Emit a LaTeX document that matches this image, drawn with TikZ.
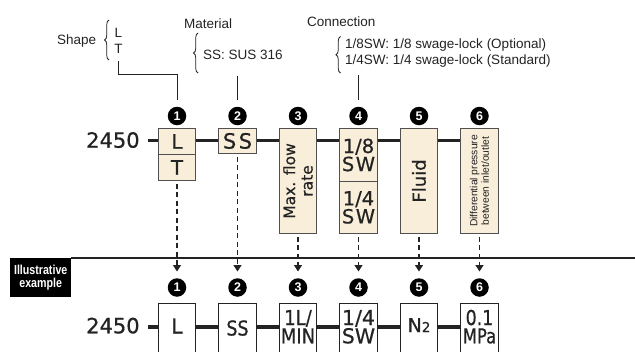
\documentclass[tikz,border=0pt]{standalone}
\usepackage{fontspec}
\usepackage{graphicx}
\setmainfont{Liberation Sans}
\newfontfamily\dvs{DejaVu Sans}
\newfontface\dvsm[FakeBold=0.6]{DejaVu Sans}
\usetikzlibrary{arrows.meta,decorations.pathreplacing}
\definecolor{cream}{RGB}{248,238,218}
\definecolor{ink}{RGB}{35,35,35}
\definecolor{boxline}{RGB}{80,80,80}
\begin{document}
\begin{tikzpicture}[x=1pt,y=-1pt,
  every node/.style={text=ink},
  note/.style={font=\fontsize{13.5}{15}\selectfont, inner sep=0},
  cell/.style={draw=boxline, fill=cream, line width=0.9pt, minimum width=37.5pt, inner sep=0, anchor=north},
  excell/.style={draw=ink, fill=white, line width=0.9pt, minimum width=37.5pt, minimum height=56pt, inner sep=0, anchor=north},
  big/.style={font=\dvsm\fontsize{20}{18}\selectfont, align=center, inner sep=0},
  exline/.style={font=\dvsm\fontsize{20.5}{20.5}\selectfont, inner sep=0, anchor=base},
  rot/.style={rotate=90, align=center, inner sep=0},
  num/.style={circle, fill=black, minimum size=18.5pt, inner sep=0, text=white, font=\bfseries\fontsize{12.5}{12.5}\selectfont},
  mainline/.style={line width=3.2pt, draw=ink},
  lead/.style={line width=0.8pt, draw=ink},
  dashlead/.style={line width=1.3pt, draw=ink, dash pattern=on 5pt off 3.5pt, shorten <=3pt, -{Triangle[width=8pt,length=6.5pt]}},
  curly/.style={decorate, decoration={brace, amplitude=4.5pt}, line width=0.8pt, draw=ink},
]
\useasboundingbox (0,0) rectangle (635,351);
\clip (0,0) rectangle (635,351);

% ---------- annotations ----------
\node[note, anchor=base west] (shape) at (57,44.3) {Shape};
\node[note, anchor=base] (shL) at (118.5,37.7) {L};
\node[note, anchor=base] (shT) at (118.5,53) {T};
\draw[curly] (109,60) -- (109,20);

\node[note, anchor=base west] (mat) at (184,28.3) {Material};
\draw[curly] (198,73) -- (198,33);
\node[note, anchor=base west] (matss) at (203,59.3) {SS: SUS 316};

\node[note, anchor=base west] (con) at (307,26.7) {Connection};
\draw[curly] (340.5,73) -- (340.5,36.5);
\node[note, anchor=base west] (con1) at (345,48.3) {1/8SW: 1/8 swage-lock (Optional)};
\node[note, anchor=base west] (con2) at (345,64.3) {1/4SW: 1/4 swage-lock (Standard)};

% ---------- top row ----------
\node[font=\dvsm\fontsize{21}{21}\selectfont, inner sep=0, anchor=base west] (n2450) at (86,147.7) {2450};
\coordinate (d0) at (148,140.5);

\node[cell, minimum height=26pt] (b1a) at (177,128) {};
\node[big] (tb1a) at (b1a.center) {L};
\node[cell, minimum height=26pt] (b1b) at (177,154) {};
\node[big] (tb1b) at (b1b.center) {T};
\node[cell, minimum height=25pt] (b2) at (237.5,128) {};
\node[big, font=\dvsm\fontsize{21}{18}\selectfont] (tb2) at (b2.center) {S\kern2.5pt S};
\node[cell, minimum height=105pt] (b3) at (298,128) {};
\node[rot, font=\dvsm\fontsize{15.5}{17.5}\selectfont] (tb3) at (b3.center) {Max. flow\\rate};
\node[cell, minimum height=53pt] (b4a) at (358.5,128) {};
\node[big, font=\dvsm\fontsize{19.5}{18}\selectfont] (tb4a) at (b4a.center) {1/8\\S\kern1.5pt W};
\node[cell, minimum height=52pt] (b4b) at (358.5,181) {};
\node[big, font=\dvsm\fontsize{19.5}{18}\selectfont] (tb4b) at (b4b.center) {1/4\\S\kern1.5pt W};
\node[cell, minimum height=105pt] (b5) at (419,128) {};
\node[rot, font=\dvsm\fontsize{18}{18}\selectfont] (tb5) at (b5.center) {Fluid};
\node[cell, minimum height=105pt] (b6) at (479.5,128) {};
\node[rot, font=\fontsize{10.3}{11.5}\selectfont] (tb6) at (b6.center) {Differential pressure\\between inlet/outlet};

\draw[mainline] (d0) -- (d0 -| b1a.west);
\draw[mainline] (d0 -| b1a.east) -- (d0 -| b2.west);
\draw[mainline] (d0 -| b2.east) -- (d0 -| b3.west);
\draw[mainline] (d0 -| b3.east) -- (d0 -| b4a.west);
\draw[mainline] (d0 -| b4a.east) -- (d0 -| b5.west);
\draw[mainline] (d0 -| b5.east) -- (d0 -| b6.west);

\node[num] (c1) at (177,116) {1};
\node[num] (c2) at (237.5,116) {2};
\node[num] (c3) at (298,116) {3};
\node[num] (c4) at (358.5,116) {4};
\node[num] (c5) at (419,116) {5};
\node[num] (c6) at (479.5,116) {6};

\coordinate (s0) at (118.5,61);
\draw[lead, shorten >=6.5pt] (s0) -- (118.5,74) -| (c1.north);
\coordinate (m0) at (237.5,76);
\draw[lead, shorten >=6.5pt] (m0) -- (c2.north);
\coordinate (k0) at (358.5,75);
\draw[lead, shorten >=6.5pt] (k0) -- (c4.north);

% ---------- separator ----------
\node[fill=black, minimum width=61pt, minimum height=39pt, inner sep=0, anchor=north west] (ill) at (10,258) {};
\node[text=white, font=\bfseries\fontsize{13}{13.5}\selectfont, align=center, inner sep=0, xscale=0.82, transform shape] (illt) at (ill.center) {Illustrative\\example};
\coordinate (sepR) at (635,258);
\draw[line width=1.2pt, draw=ink] (ill.north east) -- (sepR);

% ---------- arrows ----------
\coordinate (a1) at (177,271.5);
\coordinate (a2) at (237.5,271.5);
\coordinate (a3) at (298,271.5);
\coordinate (a4) at (358.5,271.5);
\coordinate (a5) at (419,271.5);
\coordinate (a6) at (479.5,271.5);
\draw[dashlead] (b1b.south) -- (a1);
\draw[dashlead] (b2.south) -- (a2);
\draw[dashlead] (b3.south) -- (a3);
\draw[dashlead] (b4b.south) -- (a4);
\draw[dashlead] (b5.south) -- (a5);
\draw[dashlead] (b6.south) -- (a6);

% ---------- bottom row ----------
\node[num] (k1) at (177,287.5) {1};
\node[num] (k2) at (237.5,287.5) {2};
\node[num] (k3) at (298,287.5) {3};
\node[num] (k4) at (358.5,287.5) {4};
\node[num] (k5) at (419,287.5) {5};
\node[num] (k6) at (479.5,287.5) {6};

\node[font=\dvsm\fontsize{21}{21}\selectfont, inner sep=0, anchor=base west] (m2450) at (86,333.3) {2450};
\coordinate (d1) at (148,327);

\node[excell] (e1) at (177,303) {};
\node[excell] (e2) at (237.5,303) {};
\node[excell] (e3) at (298,303) {};
\node[excell] (e4) at (358.5,303) {};
\node[excell] (e5) at (419,303) {};
\node[excell] (e6) at (479.5,303) {};

\draw[mainline] (d1) -- (d1 -| e1.west);
\draw[mainline] (d1 -| e1.east) -- (d1 -| e2.west);
\draw[mainline] (d1 -| e2.east) -- (d1 -| e3.west);
\draw[mainline] (d1 -| e3.east) -- (d1 -| e4.west);
\draw[mainline] (d1 -| e4.east) -- (d1 -| e5.west);
\draw[mainline] (d1 -| e5.east) -- (d1 -| e6.west);

\node[exline] (t1) at (177,333.5) {L};
\node[exline] (t2) at (237.5,335.5) {\scalebox{0.85}[1]{SS}};
\node[exline] (t3a) at (298,325) {\scalebox{0.88}[1]{1L/}};
\node[exline] (t3b) at (298,343.3) {\scalebox{0.88}[1]{MIN}};
\node[exline] (t4a) at (358.5,325) {1/4};
\node[exline] (t4b) at (358.5,343.3) {SW};
\node[inner sep=0, anchor=base] (t5) at (419,332) {\dvsm\fontsize{19}{19}\selectfont N\fontsize{13.5}{13.5}\selectfont 2};
\node[exline] (t6a) at (479.5,325) {\scalebox{0.85}[1]{0.1}};
\node[exline] (t6b) at (479.5,343.3) {\scalebox{0.8}[1]{MPa}};
\end{tikzpicture}
\end{document}
